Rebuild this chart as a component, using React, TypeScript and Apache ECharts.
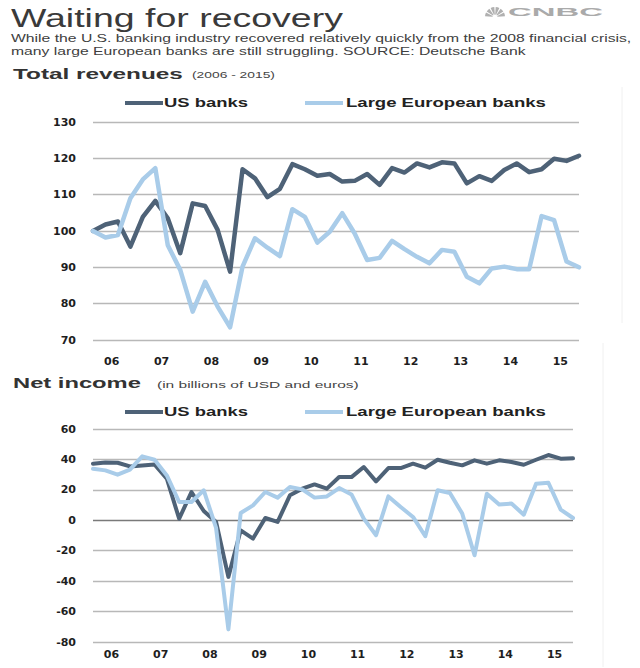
import React, { useEffect, useRef } from 'react';
import * as echarts from 'echarts';

const years = ['06', '07', '08', '09', '10', '11', '12', '13', '14', '15'];
const quarterNames = ['Q1', 'Q2', 'Q3', 'Q4'];
const quarters = years.flatMap((y) => quarterNames.map((q) => `${y} ${q}`));
// label axis: one band between each pair of consecutive quarters; year label sits between Q2 and Q3
const yearLabels = Array.from({ length: quarters.length - 1 }, (_, j) => (j % 4 === 1 ? years[(j - 1) / 4] : ''));

const usRevenue = [
  100, 101.8, 102.6, 95.7, 103.9, 108.3, 103.5, 93.9, 107.6, 106.9,
  100.3, 88.8, 117.0, 114.5, 109.3, 111.6, 118.4, 117.0, 115.2, 115.7,
  113.6, 113.8, 115.7, 112.7, 117.3, 116.1, 118.6, 117.5, 118.9, 118.6,
  113.1, 115.1, 113.8, 116.8, 118.6, 116.2, 117.0, 119.9, 119.3, 120.7,
];
const euRevenue = [
  100, 98.2, 98.9, 109.0, 114.2, 117.3, 96.1, 89.3, 77.8, 86.0,
  79.2, 73.5, 90.2, 98.0, 95.4, 93.1, 106.0, 103.9, 96.8, 99.8,
  104.9, 99.3, 92.0, 92.6, 97.3, 95.0, 92.9, 91.1, 94.8, 94.3,
  87.4, 85.6, 89.7, 90.2, 89.5, 89.5, 104.1, 103.0, 91.6, 90.0,
];
const usIncome = [
  37.2, 38, 37.8, 35.4, 36, 36.7, 27.3, 1, 18.6, 6.1,
  -1.1, -37.2, -6.6, -12, 1.5, -1.1, 16.4, 20.8, 23.6, 20.8,
  28.4, 28.4, 35, 25.6, 34.3, 34.3, 37.2, 34.6, 39.8, 37.8,
  36.1, 39.4, 37.2, 39.4, 38.3, 36.5, 39.8, 42.9, 40.5, 40.7,
];
const euIncome = [
  33.9, 32.8, 30, 33.3, 42, 39.8, 29.5, 12, 12, 19.7,
  -5, -71.7, 4.8, 9.8, 18.6, 14.9, 21.9, 20.3, 14.9, 15.7,
  21.2, 17, 1.1, -9.8, 15.7, 8.7, 2.2, -10.5, 19.7, 17.9,
  4.4, -23, 17.5, 10.3, 11, 3.7, 24, 24.7, 7, 1.5,
];

const seriesNames = ['US banks', 'Large European banks'];
const US_COLOR = '#4e6277';
const EU_COLOR = '#a9cce9';
const GRID_COLOR = '#b8b8b8';
const FONT = '"Liberation Sans", Arial, sans-serif';
const TICK_FONT = '"DejaVu Sans", sans-serif';

let measureCtx: CanvasRenderingContext2D | null = null;
function measure(text: string, size: number, weight: string) {
  if (!measureCtx) measureCtx = document.createElement('canvas').getContext('2d');
  measureCtx!.font = `${weight} ${size}px ${FONT}`;
  return measureCtx!.measureText(text).width;
}

function stretchedText(text: string, x: number, y: number, targetW: number, size: number, weight: string, color: string, scale?: number) {
  const s = scale ?? targetW / measure(text, size, weight);
  return {
    type: 'text',
    x,
    y,
    scaleX: s,
    silent: true,
    style: { text, fontSize: size, fontWeight: weight, fontFamily: FONT, fill: color, align: 'left', verticalAlign: 'middle' },
  };
}

function buildGraphic() {
  const els: any[] = [];
  els.push(stretchedText('Waiting for recovery', 11, 18, 332, 25, 'normal', '#3a3a3a'));
  const sub1 = 'While the U.S. banking industry recovered relatively quickly from the 2008 financial crisis,';
  const sub2 = 'many large European banks are still struggling. SOURCE: Deutsche Bank';
  const subScale = 621 / measure(sub1, 10.5, 'normal');
  els.push(stretchedText(sub1, 11, 38.5, 0, 10.5, 'normal', '#404040', subScale));
  els.push(stretchedText(sub2, 11, 51, 0, 10.5, 'normal', '#404040', subScale));

  els.push(stretchedText('Total revenues', 13, 73.5, 170, 15, 'bold', '#333333'));
  els.push(stretchedText('(2006 - 2015)', 192, 75.5, 83, 8.5, 'normal', '#444444'));
  els.push(stretchedText('Net income', 13, 383, 128, 15, 'bold', '#333333'));
  els.push(stretchedText('(in billions of USD and euros)', 157, 385, 202, 8.5, 'normal', '#444444'));

  // legends
  [103, 412].forEach((ly) => {
    els.push({ type: 'rect', silent: true, shape: { x: 125, y: ly - 2, width: 38, height: 4 }, style: { fill: US_COLOR } });
    els.push(stretchedText(seriesNames[0], 164, ly, 84, 12, 'bold', '#222222'));
    els.push({ type: 'rect', silent: true, shape: { x: 305, y: ly - 2, width: 38, height: 4 }, style: { fill: EU_COLOR } });
    els.push(stretchedText(seriesNames[1], 346, ly, 200, 12, 'bold', '#222222'));
  });

  // CNBC logo
  for (let k = 0; k < 6; k++) {
    els.push({
      type: 'sector',
      silent: true,
      shape: {
        cx: 495, cy: 17, r: 10, r0: 2.5,
        startAngle: Math.PI + (k * Math.PI) / 6 + 0.07,
        endAngle: Math.PI + ((k + 1) * Math.PI) / 6 - 0.07,
        clockwise: true,
      },
      style: { fill: '#b0b0b0' },
    });
  }
  els.push(stretchedText('CNBC', 508, 12.5, 95, 11, 'bold', '#aaaaaa'));

  // faint panel borders
  els.push({ type: 'line', silent: true, shape: { x1: 622, y1: 87, x2: 622, y2: 323 }, style: { stroke: '#f0f0f0', lineWidth: 1 } });
  els.push({ type: 'line', silent: true, shape: { x1: 603, y1: 343, x2: 603, y2: 667 }, style: { stroke: '#f0f0f0', lineWidth: 1 } });
  return els;
}

const tickLabel = { fontFamily: TICK_FONT, fontWeight: 'bold', fontSize: 11, color: '#1e1e1e' };

function dataXAxis(gridIndex: number) {
  return { gridIndex, type: 'category', data: quarters, boundaryGap: false, show: false };
}
function labelXAxis(gridIndex: number, margin: number) {
  return {
    gridIndex,
    type: 'category',
    data: yearLabels,
    boundaryGap: true,
    position: 'bottom',
    axisLine: { show: false },
    axisTick: { show: false },
    splitLine: { show: false },
    axisLabel: { interval: 0, margin, ...tickLabel },
  };
}

function lineSeries(name: string, data: number[], xAxisIndex: number, yAxisIndex: number, color: string, width: number, z: number) {
  return {
    name,
    type: 'line',
    xAxisIndex,
    yAxisIndex,
    data,
    symbol: 'none',
    showSymbol: false,
    smooth: false,
    z,
    lineStyle: { color, width, join: 'round', cap: 'round' },
    itemStyle: { color },
  };
}

export default function App() {
  const ref = useRef<HTMLDivElement>(null);
  useEffect(() => {
    const chart = echarts.init(ref.current!, null, { renderer: 'svg' });
    const bottomSplitColors = [-80, -60, -40, -20, 0, 20, 40, 60].map((v) => (v === 0 ? '#7a7a7a' : GRID_COLOR));
    chart.setOption({
      animation: false,
      backgroundColor: '#ffffff',
      graphic: buildGraphic(),
      grid: [
        { left: 93, right: 61, top: 122, height: 218 },
        { left: 93, right: 67, top: 429, height: 213 },
      ],
      xAxis: [dataXAxis(0), labelXAxis(0, 16), dataXAxis(1), labelXAxis(1, 7)],
      yAxis: [
        {
          gridIndex: 0, type: 'value', min: 70, max: 130, interval: 10,
          axisLine: { show: false }, axisTick: { show: false },
          axisLabel: { margin: 17, ...tickLabel },
          splitLine: { lineStyle: { color: GRID_COLOR, width: 1.3 } },
        },
        {
          gridIndex: 1, type: 'value', min: -80, max: 60, interval: 20,
          axisLine: { show: false }, axisTick: { show: false },
          axisLabel: { margin: 17, ...tickLabel },
          splitLine: { lineStyle: { color: bottomSplitColors, width: 1.3 } },
        },
      ],
      series: [
        lineSeries(seriesNames[0], usRevenue, 0, 0, US_COLOR, 4.5, 2),
        lineSeries(seriesNames[1], euRevenue, 0, 0, EU_COLOR, 4.5, 3),
        lineSeries(seriesNames[0], usIncome, 2, 1, US_COLOR, 4, 2),
        lineSeries(seriesNames[1], euIncome, 2, 1, EU_COLOR, 4, 3),
      ],
    });
    return () => chart.dispose();
  }, []);
  return <div ref={ref} style={{ position: 'fixed', left: 0, top: 0, width: 640, height: 668, background: '#fff' }} />;
}
